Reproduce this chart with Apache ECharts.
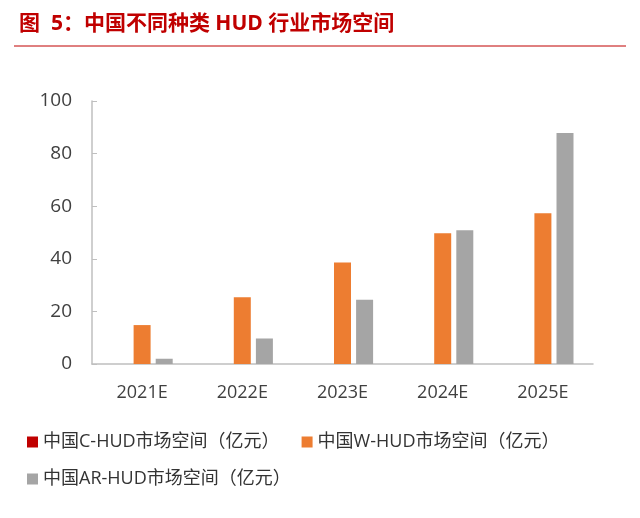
<!DOCTYPE html>
<html><head><meta charset="utf-8">
<script src="https://cdn.jsdelivr.net/npm/echarts@6/dist/echarts.min.js"></script>
<style>body{margin:0;background:#fff}#c{width:640px;height:518px}</style>
</head><body><div id="c"></div>
<script>
const years = ['2021E', '2022E', '2023E', '2024E', '2025E'];
const cHud = [0, 0, 0, 0, 0];
const wHud = [14.8, 25.4, 38.6, 49.7, 57.3];
const arHud = [2.0, 9.7, 24.4, 50.9, 87.8];
const names = ['中国C-HUD市场空间（亿元）', '中国W-HUD市场空间（亿元）', '中国AR-HUD市场空间（亿元）'];
const colors = ['#c00000', '#ed7d31', '#a5a5a5'];
const font = '"Open Sans", "Noto Sans CJK SC", sans-serif';

const chart = echarts.init(document.getElementById('c'));
const legendText = { fontSize: 18, color: '#333', fontFamily: font };
chart.setOption({
    animation: false,
    color: colors,
    title: {
        text: '图  5：中国不同种类 HUD 行业市场空间',
        left: 14, top: 9,
        textStyle: { color: '#c00000', fontSize: 21, fontWeight: 'bold', fontFamily: font }
    },
    graphic: [{ type: 'line', shape: { x1: 14, y1: 46, x2: 626, y2: 46 }, style: { stroke: '#c00000', lineWidth: 1 } }],
    legend: [
        { data: [names[0], names[1]], left: 22, top: 428, icon: 'rect', itemWidth: 11, itemHeight: 11, itemGap: 22, textStyle: legendText },
        { data: [names[2]], left: 22, top: 465, icon: 'rect', itemWidth: 11, itemHeight: 11, textStyle: legendText }
    ],
    grid: { left: 92, right: 47, top: 101, bottom: 154 },
    xAxis: {
        type: 'category', data: years,
        axisTick: { show: false },
        axisLine: { lineStyle: { color: '#bfbfbf', width: 1.5 } },
        axisLabel: { fontSize: 18, color: '#404040', margin: 20, fontFamily: font }
    },
    yAxis: {
        type: 'value', min: 0, max: 100, interval: 20,
        splitLine: { show: false },
        axisLine: { show: true, lineStyle: { color: '#bfbfbf', width: 1.5 } },
        axisTick: { show: true, inside: true, length: 5, lineStyle: { color: '#bfbfbf' } },
        axisLabel: { fontSize: 19, color: '#404040', margin: 20, fontFamily: font }
    },
    series: [
        { name: names[0], type: 'bar', data: cHud, barWidth: 17, barGap: '30%' },
        { name: names[1], type: 'bar', data: wHud, barWidth: 17, barGap: '30%' },
        { name: names[2], type: 'bar', data: arHud, barWidth: 17, barGap: '30%' }
    ]
});
window.addEventListener('resize', () => chart.resize());
</script></body></html>
